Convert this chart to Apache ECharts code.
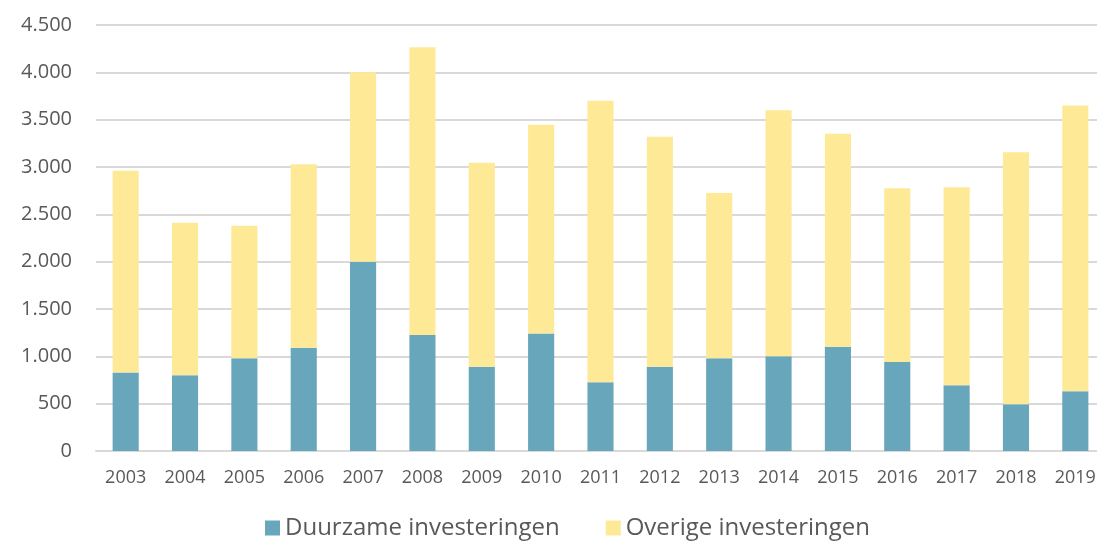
<!DOCTYPE html>
<html>
<head>
<meta charset="utf-8">
<script src="https://cdn.jsdelivr.net/npm/echarts@6/dist/echarts.min.js"></script>
<style>
html, body { margin: 0; padding: 0; background: #fff; }
#chart { width: 1097px; height: 543px; }
</style>
</head>
<body>
<div id="chart"></div>
<script>
var years = ['2003', '2004', '2005', '2006', '2007', '2008', '2009', '2010', '2011',
    '2012', '2013', '2014', '2015', '2016', '2017', '2018', '2019'];
var duurzaam = [830, 800, 980, 1090, 2000, 1225, 890, 1240, 725, 890, 980, 1000, 1100, 940, 695, 495, 630];
var totaal = [2960, 2410, 2380, 3030, 4000, 4265, 3045, 3445, 3700, 3320, 2725, 3600, 3350, 2775, 2785, 3155, 3650];
var overig = totaal.map(function (t, i) { return t - duurzaam[i]; });

function fmt(v) {
    return String(v).replace(/\B(?=(\d{3})+(?!\d))/g, '.');
}

var myChart = echarts.init(document.getElementById('chart'));
var option = {
    backgroundColor: '#fff',
    animation: false,
    textStyle: { fontFamily: 'Open Sans' },
    grid: { left: 96, right: -8, top: 25, bottom: 92, outerBoundsMode: 'none', containLabel: false },
    legend: {
        bottom: -2,
        left: 260,
        itemWidth: 15,
        itemHeight: 15,
        itemGap: 46,
        icon: 'rect',
        textStyle: { fontSize: 24, color: '#595959', fontFamily: 'Open Sans' },
        data: ['Duurzame investeringen', 'Overige investeringen']
    },
    xAxis: {
        type: 'category',
        data: years,
        axisLine: { show: true, lineStyle: { color: '#d9d9d9', width: 2 } },
        axisTick: { show: false },
        axisLabel: { fontSize: 18, color: '#595959', margin: 18 }
    },
    yAxis: {
        type: 'value',
        min: 0,
        max: 4500,
        interval: 500,
        axisLine: { show: false },
        axisTick: { show: false },
        splitLine: { lineStyle: { color: '#d9d9d9', width: 2 } },
        axisLabel: { fontSize: 20, color: '#595959', margin: 24, formatter: fmt }
    },
    series: [
        {
            name: 'Duurzame investeringen',
            type: 'bar',
            stack: 'a',
            barWidth: '44%',
            itemStyle: { color: '#68a6bb' },
            data: duurzaam
        },
        {
            name: 'Overige investeringen',
            type: 'bar',
            stack: 'a',
            barWidth: '44%',
            itemStyle: { color: '#fee997' },
            data: overig
        }
    ]
};
myChart.setOption(option);
</script>
</body>
</html>
